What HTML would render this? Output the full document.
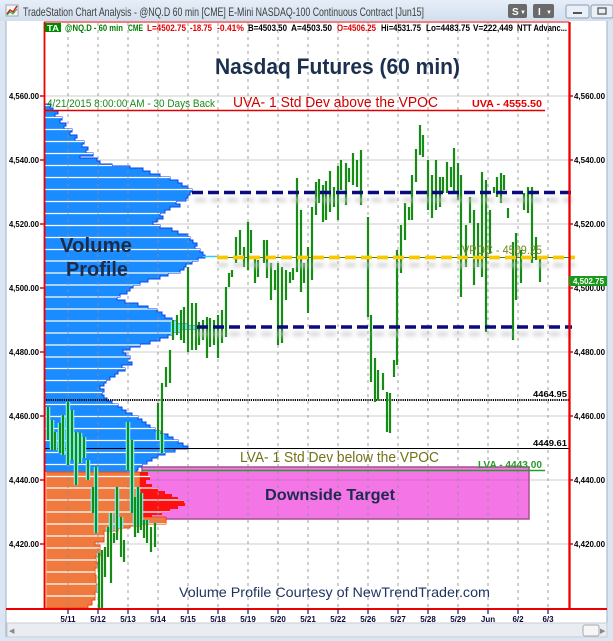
<!DOCTYPE html>
<html><head><meta charset="utf-8"><style>
html,body{margin:0;padding:0;background:#dce6f2;}
svg{display:block;font-family:"Liberation Sans",sans-serif;}
</style></head><body>
<svg width="613" height="641" viewBox="0 0 613 641" xmlns="http://www.w3.org/2000/svg">
<defs>
<linearGradient id="tb" x1="0" y1="0" x2="0" y2="1"><stop offset="0" stop-color="#e6eef8"/><stop offset="1" stop-color="#d3dfee"/></linearGradient>
<filter id="blur" x="-5%" y="-300%" width="110%" height="700%"><feGaussianBlur stdDeviation="2"/></filter>
<clipPath id="prof">
<polygon points="45,104 50,104 50,108 53,108 53,111 58,111 58,114 55,114 55,117 62,117 62,120 60,120 60,123 66,123 66,126 64,126 64,129 72,129 72,132 70,132 70,135 77,135 77,138 75,138 75,141 84,141 84,144 82,144 82,147 88,147 88,150 86,150 86,153 93,153 93,156 80,156 80,158 97,158 97,161 100,161 100,164 112,164 112,166 130,166 130,168 143,168 143,171 150,171 150,174 160,174 160,177 170,177 170,180 178,180 178,183 182,183 182,186 188,186 188,189 192,189 192,192 190,192 190,195 188,195 188,198 186,198 186,201 176,201 176,204 180,204 180,207 170,207 170,210 165,210 165,213 160,213 160,216 163,216 163,219 157,219 157,222 153,222 153,225 160,225 160,228 172,228 172,231 178,231 178,234 188,234 188,237 190,237 190,240 193,240 193,243 197,243 197,246 195,246 195,249 200,249 200,252 203,252 203,255 205,255 205,258 198,258 198,261 192,261 192,264 186,264 186,267 184,267 184,270 180,270 180,273 168,273 168,276 160,276 160,279 148,279 148,282 140,282 140,285 133,285 133,288 130,288 130,291 127,291 127,294 120,294 120,297 117,297 117,300 125,300 125,303 138,303 138,306 148,306 148,309 157,309 157,312 162,312 162,315 165,315 165,318 172,318 172,321 176,321 176,324 188,324 188,326 197,326 197,329 180,329 180,332 173,332 173,335 168,335 168,338 160,338 160,341 150,341 150,344 140,344 140,347 130,347 130,350 123,350 123,353 126,353 126,356 130,356 130,359 128,359 128,362 132,362 132,365 122,365 122,368 125,368 125,371 118,371 118,374 115,374 115,377 110,377 110,380 106,380 106,383 104,383 104,386 100,386 100,389 104,389 104,392 102,392 102,395 104,395 104,398 107,398 107,401 112,401 112,404 118,404 118,407 122,407 122,410 126,410 126,413 132,413 132,416 138,416 138,419 142,419 142,422 146,422 146,425 150,425 150,428 155,428 155,431 160,431 160,434 168,434 168,437 173,437 173,440 178,440 178,443 183,443 183,446 188,446 188,449 175,449 175,452 165,452 165,455 158,455 158,458 152,458 152,461 147,461 147,464 142,464 142,467 138,467 138,470 137,470 137,472 45,472"/>
<polygon points="45,472 140,472 140,517 166,517 166,524 140,524 140,526 130,526 130,528 118,528 118,531 104,531 104,542 95,542 95,545 100,545 100,556 96,556 96,562 97,562 97,568 95,568 95,575 96,575 96,585 98,585 98,592 95,592 95,600 92,600 92,605 88,605 88,608 45,608"/>
<polygon points="140,472 148,472 148,476 150,476 150,480 146,480 146,484 152,484 152,488 158,488 158,491 165,491 165,494 172,494 172,497 178,497 178,500 184,500 184,503 185,503 185,506 178,506 178,509 170,509 170,512 162,512 162,515 152,515 152,517 140,517"/>
</clipPath>
</defs>

<!-- window chrome -->
<rect x="0" y="0" width="613" height="641" fill="#dce6f2"/>
<rect x="0" y="0" width="613" height="21" fill="url(#tb)"/>
<rect x="6" y="5" width="12" height="11" fill="#f4f4f4" stroke="#8a9ab0" stroke-width="0.8"/>
<polyline points="7,14 10,10 13,12 17,6" fill="none" stroke="#cc2222" stroke-width="1.5"/>
<polyline points="7,15 10,12 13,14 17,9" fill="none" stroke="#22aa22" stroke-width="1"/>
<text x="23" y="16" font-size="12" fill="#3e3e3e" textLength="401" lengthAdjust="spacingAndGlyphs">TradeStation Chart Analysis - @NQ.D 60 min [CME] E-Mini NASDAQ-100 Continuous Contract [Jun15]</text>
<rect x="508" y="4" width="19" height="14" rx="2" fill="#6a6a6a"/>
<text x="512" y="15" font-size="10" font-weight="bold" fill="#fff">S</text><text x="520" y="14" font-size="6" fill="#fff">▼</text>
<rect x="533" y="4" width="21" height="14" rx="2" fill="#6a6a6a"/>
<text x="538" y="15" font-size="10" font-weight="bold" fill="#fff">I</text><text x="546" y="14" font-size="6" fill="#fff">▼</text>
<rect x="566" y="5" width="23" height="13" rx="2" fill="#eaf0f7" stroke="#8c9cb2"/>
<rect x="573" y="12" width="9" height="2" fill="#555"/>
<rect x="591" y="5" width="22" height="13" rx="2" fill="#eaf0f7" stroke="#8c9cb2"/>
<rect x="598" y="8" width="8" height="6" fill="none" stroke="#555" stroke-width="1.3"/>

<!-- chart white area -->
<rect x="6" y="21" width="601" height="602" fill="#ffffff"/>
<line x1="6" y1="21" x2="6" y2="637" stroke="#9fb0c6"/>
<line x1="607" y1="21" x2="607" y2="637" stroke="#9fb0c6"/>

<!-- scrollbar -->
<rect x="7" y="623" width="600" height="14" fill="#e9ecf0" stroke="#c9ced6"/>
<text x="9" y="633" font-size="7" fill="#888">◀</text>
<rect x="583" y="625" width="16" height="11" rx="2" fill="#f6f6f6" stroke="#a8a8a8"/>
<text x="600" y="633" font-size="7" fill="#888">▶</text>

<!-- horizontal gridlines -->
<g stroke="#d6d6d6" stroke-width="1.3">
<line x1="44" y1="96" x2="569" y2="96"/><line x1="44" y1="160" x2="569" y2="160"/>
<line x1="44" y1="224" x2="569" y2="224"/><line x1="44" y1="288" x2="569" y2="288"/>
<line x1="44" y1="352" x2="569" y2="352"/><line x1="44" y1="416" x2="569" y2="416"/>
<line x1="44" y1="480" x2="569" y2="480"/><line x1="44" y1="544" x2="569" y2="544"/>
</g>

<!-- downside target box -->
<rect x="142" y="467" width="387" height="52" fill="rgb(240,60,220)" fill-opacity="0.7" stroke="#a4508e" stroke-width="1.5"/>

<!-- volume profile -->
<polygon fill="#1a8cff" stroke="#0c44e6" stroke-width="1" points="45,104 50,104 50,108 53,108 53,111 58,111 58,114 55,114 55,117 62,117 62,120 60,120 60,123 66,123 66,126 64,126 64,129 72,129 72,132 70,132 70,135 77,135 77,138 75,138 75,141 84,141 84,144 82,144 82,147 88,147 88,150 86,150 86,153 93,153 93,156 80,156 80,158 97,158 97,161 100,161 100,164 112,164 112,166 130,166 130,168 143,168 143,171 150,171 150,174 160,174 160,177 170,177 170,180 178,180 178,183 182,183 182,186 188,186 188,189 192,189 192,192 190,192 190,195 188,195 188,198 186,198 186,201 176,201 176,204 180,204 180,207 170,207 170,210 165,210 165,213 160,213 160,216 163,216 163,219 157,219 157,222 153,222 153,225 160,225 160,228 172,228 172,231 178,231 178,234 188,234 188,237 190,237 190,240 193,240 193,243 197,243 197,246 195,246 195,249 200,249 200,252 203,252 203,255 205,255 205,258 198,258 198,261 192,261 192,264 186,264 186,267 184,267 184,270 180,270 180,273 168,273 168,276 160,276 160,279 148,279 148,282 140,282 140,285 133,285 133,288 130,288 130,291 127,291 127,294 120,294 120,297 117,297 117,300 125,300 125,303 138,303 138,306 148,306 148,309 157,309 157,312 162,312 162,315 165,315 165,318 172,318 172,321 176,321 176,324 188,324 188,326 197,326 197,329 180,329 180,332 173,332 173,335 168,335 168,338 160,338 160,341 150,341 150,344 140,344 140,347 130,347 130,350 123,350 123,353 126,353 126,356 130,356 130,359 128,359 128,362 132,362 132,365 122,365 122,368 125,368 125,371 118,371 118,374 115,374 115,377 110,377 110,380 106,380 106,383 104,383 104,386 100,386 100,389 104,389 104,392 102,392 102,395 104,395 104,398 107,398 107,401 112,401 112,404 118,404 118,407 122,407 122,410 126,410 126,413 132,413 132,416 138,416 138,419 142,419 142,422 146,422 146,425 150,425 150,428 155,428 155,431 160,431 160,434 168,434 168,437 173,437 173,440 178,440 178,443 183,443 183,446 188,446 188,449 175,449 175,452 165,452 165,455 158,455 158,458 152,458 152,461 147,461 147,464 142,464 142,467 138,467 138,470 137,470 137,472 45,472"/>
<line x1="203" y1="256.5" x2="217" y2="256.5" stroke="#35c8ff" stroke-width="1.5"/>
<polygon fill="#f07a3e" stroke="#e84a12" stroke-width="1" points="45,472 140,472 140,517 166,517 166,524 140,524 140,526 130,526 130,528 118,528 118,531 104,531 104,542 95,542 95,545 100,545 100,556 96,556 96,562 97,562 97,568 95,568 95,575 96,575 96,585 98,585 98,592 95,592 95,600 92,600 92,605 88,605 88,608 45,608"/>
<polygon fill="#ff1010" points="140,472 148,472 148,476 150,476 150,480 146,480 146,484 152,484 152,488 158,488 158,491 165,491 165,494 172,494 172,497 178,497 178,500 184,500 184,503 185,503 185,506 178,506 178,509 170,509 170,512 162,512 162,515 152,515 152,517 140,517"/>
<path clip-path="url(#prof)" stroke="#ffffff" stroke-width="1.3" fill="none" d="M44 105.5H220M44 117.5H220M44 129.5H220M44 141.5H220M44 153.5H220M44 165.5H220M44 177.5H220M44 189.5H220M44 201.5H220M44 213.5H220M44 225.5H220M44 237.5H220M44 249.5H220M44 261H220M44 273H220M44 285H220M44 297H220M44 309H220M44 321H220M44 333H220M44 345H220M44 357H220M44 368.5H220M44 380.5H220M44 392.5H220M44 404.5H220M44 416.5H220M44 428.5H220M44 440.5H220M44 452.5H220M44 464.5H220M44 476.5H220M44 488H220M44 500H220M44 512H220M44 524H220M44 536H220M44 548H220M44 560H220M44 572H220M44 584H220M44 596H220"/>
<line x1="46" y1="472" x2="46" y2="608" stroke="#f6c0a0" stroke-width="1"/>

<!-- vertical dotted gridlines -->
<g stroke="#8e8e8e" stroke-width="1" stroke-dasharray="3 4" opacity="0.85">
<line x1="68" y1="23" x2="68" y2="608"/><line x1="98" y1="23" x2="98" y2="608"/>
<line x1="128" y1="23" x2="128" y2="608"/><line x1="158" y1="23" x2="158" y2="608"/>
<line x1="188" y1="23" x2="188" y2="608"/><line x1="218" y1="23" x2="218" y2="608"/>
<line x1="248" y1="23" x2="248" y2="608"/><line x1="278" y1="23" x2="278" y2="608"/>
<line x1="308" y1="23" x2="308" y2="608"/><line x1="338" y1="23" x2="338" y2="608"/>
<line x1="368" y1="23" x2="368" y2="608"/><line x1="398" y1="23" x2="398" y2="608"/>
<line x1="428" y1="23" x2="428" y2="608"/><line x1="458" y1="23" x2="458" y2="608"/>
<line x1="488" y1="23" x2="488" y2="608"/><line x1="518" y1="23" x2="518" y2="608"/>
<line x1="548" y1="23" x2="548" y2="608"/>
</g>

<!-- reference lines -->
<line x1="44" y1="110.5" x2="545" y2="110.5" stroke="#e00000" stroke-width="1.5"/>
<line x1="44" y1="400" x2="569" y2="400" stroke="#000" stroke-width="2" stroke-dasharray="1.2 1"/>
<line x1="44" y1="448.5" x2="569" y2="448.5" stroke="#000" stroke-width="1"/>
<line x1="142" y1="470.5" x2="545" y2="470.5" stroke="#2a9a2a" stroke-width="1.5"/>

<!-- price bars -->
<path clip-path="url(#prof)" fill="none" stroke="#7ff3ff" stroke-width="4.5" d="M48 407V440M52 420V450M55 432V450M60 423V453M63 415V455M68 402V465M72 410V460M76 432V485M80 433V463M84 437V458M88 460V480M93 487V513M96 467V533M99 553V609M102 550V609M105 547V577M108 527V557M111 513V583M114 533V543M117 487V540M121 517V557M124 540V562M128 422V470M132 440V513M135 497V537M138 487V533M141 493V530M144 520V538M147 520V543M151 527V552M155 523V547M158 403V440M162 383V453M166 367V387M170 350V383M173 320V340M177 315V335M181 310V340M184 307V343M188 267V352M192 303V350M196 303V350"/>
<path fill="none" stroke="#168c16" stroke-width="2.2" d="M48 407V440M52 420V450M55 432V450M60 423V453M63 415V455M68 402V465M72 410V460M76 432V485M80 433V463M84 437V458M88 460V480M93 487V513M96 467V533M99 553V609M102 550V609M105 547V577M108 527V557M111 513V583M114 533V543M117 487V540M121 517V557M124 540V562M128 422V470M132 440V513M135 497V537M138 487V533M141 493V530M144 520V538M147 520V543M151 527V552M155 523V547M158 403V440M162 383V453M166 367V387M170 350V383M173 320V340M177 315V335M181 310V340M184 307V343M188 267V352M192 303V350M196 303V350M199 322V345M203 320V340M207 317V358M210 318V347M214 320V345M218 315V358M222 310V343M226 287V337M229 273V287M232 270V277M236 237V263M240 230V255M244 247V267M248 222V270M251 230V253M255 257V283M258 260V277M264 240V263M267 240V278M271 263V300M275 270V290M278 263V345M282 267V343M286 270V300M290 272V283M293 268V280M297 178V272M301 210V292M304 263V283M308 247V313M312 207V280M316 182V215M319 179V203M323 185V222M326 181V220M330 171V212M334 187V207M338 166V220M341 160V190M346 163V205M349 168V182M353 153V185M357 160V187M361 150V205M368 217V317M371 315V382M375 358V402M378 370V400M383 373V390M387 392V432M390 393V433M394 360V377M397 250V365M401 225V273M405 203V240M409 207V220M412 175V220M416 149V182M420 125V155M423 135V157M428 160V210M432 175V218M436 160V210M440 177V207M443 177V193M447 162V193M451 167V187M454 148V192M458 163V200M461 175V297M466 225V267M470 197V223M474 210V285M478 223V267M482 172V277M486 180V332M490 210V253M494 187V193M497 177V197M501 173V203M504 175V190M508 208V218M513 242V340M516 233V300M521 250V283M524 193V210M528 187V213M532 187V263M536 237V260M540 258V282"/>

<!-- dashed VA / VPOC lines with shadows -->
<g filter="url(#blur)" stroke="#c8c8c8" stroke-width="4" stroke-dasharray="11 5" fill="none" opacity="0.8">
<line x1="195" y1="200" x2="572" y2="200"/>
<line x1="217" y1="265" x2="575" y2="265"/>
<line x1="197" y1="334" x2="572" y2="334"/>
</g>
<line x1="217" y1="257.5" x2="575" y2="257.5" stroke="#4a7a10" stroke-width="1"/>
<line x1="192" y1="192.5" x2="572" y2="192.5" stroke="#0a0a80" stroke-width="3.6" stroke-dasharray="11 5"/>
<line x1="217" y1="257.5" x2="575" y2="257.5" stroke="#f8c800" stroke-width="3.8" stroke-dasharray="11 5"/>
<line x1="197" y1="327" x2="572" y2="327" stroke="#0a0a80" stroke-width="3.6" stroke-dasharray="11 5"/>

<!-- frame red lines -->
<line x1="44" y1="22" x2="569" y2="22" stroke="#e00000" stroke-width="1"/>
<line x1="44.5" y1="22" x2="44.5" y2="609" stroke="#ee0000" stroke-width="1.8"/>
<line x1="569.5" y1="22" x2="569.5" y2="609" stroke="#ee0000" stroke-width="2.3"/>
<line x1="6" y1="609" x2="607" y2="609" stroke="#ee0000" stroke-width="2"/>

<!-- axis ticks -->
<g stroke="#ee0000" stroke-width="1.5">
<line x1="40" y1="96" x2="44" y2="96"/><line x1="40" y1="160" x2="44" y2="160"/><line x1="40" y1="224" x2="44" y2="224"/><line x1="40" y1="288" x2="44" y2="288"/><line x1="40" y1="352" x2="44" y2="352"/><line x1="40" y1="416" x2="44" y2="416"/><line x1="40" y1="480" x2="44" y2="480"/><line x1="40" y1="544" x2="44" y2="544"/>
<line x1="569" y1="96" x2="573" y2="96"/><line x1="569" y1="160" x2="573" y2="160"/><line x1="569" y1="224" x2="573" y2="224"/><line x1="569" y1="288" x2="573" y2="288"/><line x1="569" y1="352" x2="573" y2="352"/><line x1="569" y1="416" x2="573" y2="416"/><line x1="569" y1="480" x2="573" y2="480"/><line x1="569" y1="544" x2="573" y2="544"/>
</g>
<g stroke="#1a1a60" stroke-width="1.2">
<line x1="68" y1="609" x2="68" y2="614"/><line x1="98" y1="609" x2="98" y2="614"/><line x1="128" y1="609" x2="128" y2="614"/><line x1="158" y1="609" x2="158" y2="614"/><line x1="188" y1="609" x2="188" y2="614"/><line x1="218" y1="609" x2="218" y2="614"/><line x1="248" y1="609" x2="248" y2="614"/><line x1="278" y1="609" x2="278" y2="614"/><line x1="308" y1="609" x2="308" y2="614"/><line x1="338" y1="609" x2="338" y2="614"/><line x1="368" y1="609" x2="368" y2="614"/><line x1="398" y1="609" x2="398" y2="614"/><line x1="428" y1="609" x2="428" y2="614"/><line x1="458" y1="609" x2="458" y2="614"/><line x1="488" y1="609" x2="488" y2="614"/><line x1="518" y1="609" x2="518" y2="614"/><line x1="548" y1="609" x2="548" y2="614"/>
</g>

<!-- left axis labels -->
<g font-size="8.5" font-weight="bold" fill="#000" text-anchor="end">
<text x="39" y="99" textLength="30" lengthAdjust="spacingAndGlyphs">4,560.00</text>
<text x="39" y="163" textLength="30" lengthAdjust="spacingAndGlyphs">4,540.00</text>
<text x="39" y="227" textLength="30" lengthAdjust="spacingAndGlyphs">4,520.00</text>
<text x="39" y="291" textLength="30" lengthAdjust="spacingAndGlyphs">4,500.00</text>
<text x="39" y="355" textLength="30" lengthAdjust="spacingAndGlyphs">4,480.00</text>
<text x="39" y="419" textLength="30" lengthAdjust="spacingAndGlyphs">4,460.00</text>
<text x="39" y="483" textLength="30" lengthAdjust="spacingAndGlyphs">4,440.00</text>
<text x="39" y="547" textLength="30" lengthAdjust="spacingAndGlyphs">4,420.00</text>
</g>
<!-- right axis labels -->
<g font-size="8.5" font-weight="bold" fill="#000">
<text x="574" y="99" textLength="31" lengthAdjust="spacingAndGlyphs">4,560.00</text>
<text x="574" y="163" textLength="31" lengthAdjust="spacingAndGlyphs">4,540.00</text>
<text x="574" y="227" textLength="31" lengthAdjust="spacingAndGlyphs">4,520.00</text>
<text x="574" y="291" textLength="31" lengthAdjust="spacingAndGlyphs">4,500.00</text>
<text x="574" y="355" textLength="31" lengthAdjust="spacingAndGlyphs">4,480.00</text>
<text x="574" y="419" textLength="31" lengthAdjust="spacingAndGlyphs">4,460.00</text>
<text x="574" y="483" textLength="31" lengthAdjust="spacingAndGlyphs">4,440.00</text>
<text x="574" y="547" textLength="31" lengthAdjust="spacingAndGlyphs">4,420.00</text>
</g>
<rect x="569" y="276" width="38" height="10" fill="#1a9a1a"/>
<text x="573" y="284" font-size="8.5" font-weight="bold" fill="#fff" textLength="31" lengthAdjust="spacingAndGlyphs">4,502.75</text>

<!-- date labels -->
<g font-size="8" font-weight="bold" fill="#0a0a3a" text-anchor="middle">
<text x="68" y="622">5/11</text><text x="98" y="622">5/12</text><text x="128" y="622">5/13</text><text x="158" y="622">5/14</text><text x="188" y="622">5/15</text><text x="218" y="622">5/18</text><text x="248" y="622">5/19</text><text x="278" y="622">5/20</text><text x="308" y="622">5/21</text><text x="338" y="622">5/22</text><text x="368" y="622">5/26</text><text x="398" y="622">5/27</text><text x="428" y="622">5/28</text><text x="458" y="622">5/29</text><text x="488" y="622">Jun</text><text x="518" y="622">6/2</text><text x="548" y="622">6/3</text>
</g>

<!-- status line -->
<rect x="45" y="23" width="16" height="9" fill="#008a00"/>
<text x="47" y="31" font-size="8.5" font-weight="bold" fill="#fff" textLength="12" lengthAdjust="spacingAndGlyphs">TA</text>
<g font-size="9" font-weight="bold">
<text x="65" y="31" fill="#008000" textLength="58" lengthAdjust="spacingAndGlyphs">@NQ.D - 60 min</text>
<text x="128" y="31" fill="#008000" textLength="15" lengthAdjust="spacingAndGlyphs">CME</text>
<text x="147" y="31" fill="#e00000" textLength="39" lengthAdjust="spacingAndGlyphs">L=4502.75</text>
<text x="190" y="31" fill="#e00000" textLength="22" lengthAdjust="spacingAndGlyphs">-18.75</text>
<text x="217" y="31" fill="#e00000" textLength="27" lengthAdjust="spacingAndGlyphs">-0.41%</text>
<text x="248" y="31" fill="#000" textLength="39" lengthAdjust="spacingAndGlyphs">B=4503.50</text>
<text x="291" y="31" fill="#000" textLength="41" lengthAdjust="spacingAndGlyphs">A=4503.50</text>
<text x="337" y="31" fill="#e00000" textLength="39" lengthAdjust="spacingAndGlyphs">O=4506.25</text>
<text x="381" y="31" fill="#000" textLength="40" lengthAdjust="spacingAndGlyphs">Hi=4531.75</text>
<text x="426" y="31" fill="#000" textLength="44" lengthAdjust="spacingAndGlyphs">Lo=4483.75</text>
<text x="473" y="31" fill="#000" textLength="40" lengthAdjust="spacingAndGlyphs">V=222,449</text>
<text x="517" y="31" fill="#000" textLength="50" lengthAdjust="spacingAndGlyphs">NTT Advanc...</text>
</g>

<!-- annotations -->
<text x="215" y="74" font-size="22" font-weight="bold" fill="#1b2f4e" textLength="245" lengthAdjust="spacingAndGlyphs">Nasdaq Futures (60 min)</text>
<text x="47" y="107" font-size="11" fill="#1a8a1a" textLength="168" lengthAdjust="spacingAndGlyphs">4/21/2015 8:00:00 AM - 30 Days Back</text>
<text x="233" y="107" font-size="15" fill="#d00000" textLength="205" lengthAdjust="spacingAndGlyphs">UVA- 1 Std Dev above the VPOC</text>
<text x="472" y="107" font-size="10" font-weight="bold" fill="#e00000" textLength="70" lengthAdjust="spacingAndGlyphs">UVA - 4555.50</text>
<text x="60" y="252" font-size="20" font-weight="bold" fill="#1d2b46" textLength="72" lengthAdjust="spacingAndGlyphs">Volume</text>
<text x="66" y="276" font-size="20" font-weight="bold" fill="#1d2b46" textLength="62" lengthAdjust="spacingAndGlyphs">Profile</text>
<text x="462" y="254" font-size="11.5" fill="#6f8a18" textLength="80" lengthAdjust="spacingAndGlyphs">VPOC - 4509.25</text>
<text x="533" y="397" font-size="8" font-weight="bold" fill="#000" textLength="34" lengthAdjust="spacingAndGlyphs">4464.95</text>
<text x="533" y="446" font-size="8" font-weight="bold" fill="#000" textLength="34" lengthAdjust="spacingAndGlyphs">4449.61</text>
<text x="240" y="462" font-size="15" fill="#727218" textLength="199" lengthAdjust="spacingAndGlyphs">LVA- 1 Std Dev below the VPOC</text>
<text x="478" y="468" font-size="10" font-weight="bold" fill="#2a9a2a" textLength="64" lengthAdjust="spacingAndGlyphs">LVA - 4443.00</text>
<text x="265" y="500" font-size="16" font-weight="bold" fill="#1e2a50" textLength="130" lengthAdjust="spacingAndGlyphs">Downside Target</text>
<text x="179" y="597" font-size="14" fill="#1f3560" textLength="311" lengthAdjust="spacingAndGlyphs">Volume Profile Courtesy of NewTrendTrader.com</text>
</svg>
</body></html>
